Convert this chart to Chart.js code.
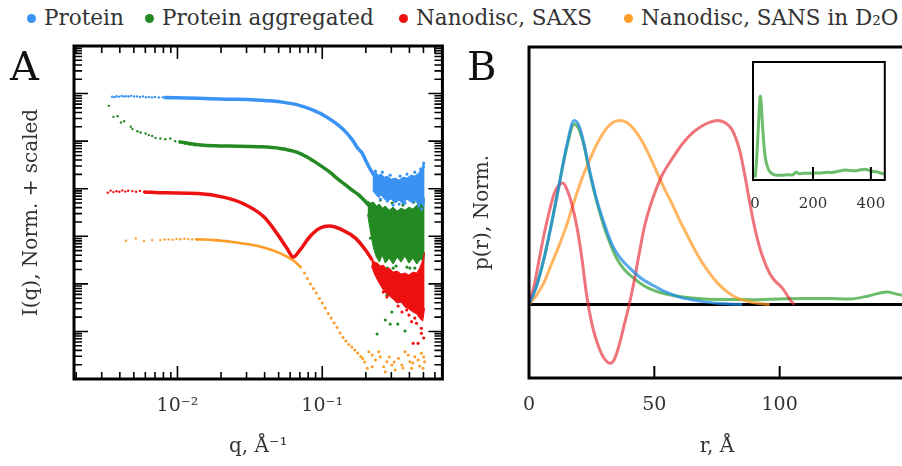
<!DOCTYPE html>
<html>
<head>
<meta charset="utf-8">
<title>Scattering curves and pair distance distributions</title>
<script src="https://cdn.jsdelivr.net/npm/chart.js@4.4.1/dist/chart.umd.min.js"></script>
<style>
  html, body { margin: 0; padding: 0; background: #fff; }
  body { width: 902px; height: 466px; position: relative; overflow: hidden; font-family: "DejaVu Serif", serif; }
  .legend-item { position: absolute; top: 4px; height: 28px; line-height: 28px; font-size: 21.5px; color: #333; white-space: nowrap; }
  .legend-item i { display: inline-block; width: 9px; height: 9px; border-radius: 50%; margin-right: 8px; vertical-align: 2px; }
  .letter { position: absolute; font-size: 40px; line-height: 40px; color: #111; }
  canvas { position: absolute; }
  #clipB { position: absolute; left: 451px; top: 0; width: 451px; height: 466px; overflow: hidden; }
</style>
</head>
<body>
<div id="legend"></div>
<canvas id="chartA" width="451" height="466" style="left:0;top:0"></canvas>
<div id="clipB"><canvas id="chartB" width="454" height="466" style="left:0;top:0"></canvas></div>
<canvas id="chartInset" width="167" height="170" style="left:735px;top:50px"></canvas>
<div class="letter" style="left:10px;top:46px">A</div>
<div class="letter" style="left:467px;top:46px">B</div>
<script>
// ---- series ----
const seriesLabels = ['Protein', 'Protein aggregated', 'Nanodisc, SAXS', 'Nanodisc, SANS in D\u2082O'];
const seriesColors = ['#3a93f2', '#238a23', '#ee1111', '#ff9c26'];
const lineColors = ['rgba(31,140,230,0.75)', 'rgba(44,160,44,0.7)', 'rgba(230,40,50,0.65)', 'rgba(255,150,30,0.7)'];
const legendLeft = [27, 145, 399, 624];

// ---- panel A: I(q), q in 1/Å, intensity normalised and offset ----
// Protein
const proteinSparseQ = [0.00354, 0.00367, 0.00379, 0.00394, 0.0041, 0.00426, 0.00443, 0.00461, 0.00479, 0.00502, 0.00526, 0.00551, 0.00578, 0.00606, 0.00635, 0.00666, 0.00698, 0.00743, 0.00791, 0.00842];
const proteinSparseI = [8.61e5, 8.40e5, 8.82e5, 8.61e5, 8.91e5, 8.69e5, 8.82e5, 8.73e5, 8.95e5, 8.65e5, 8.73e5, 8.49e5, 8.69e5, 8.40e5, 8.49e5, 8.32e5, 8.45e5, 8.24e5, 8.32e5, 8.16e5];
const proteinCurveQ = [0.00804, 0.0139, 0.02224, 0.0304, 0.04159, 0.05128, 0.06653, 0.08646, 0.1065, 0.1245, 0.1456, 0.1618, 0.1758, 0.1892, 0.1991, 0.2099, 0.227];
const proteinCurveI = [8.24e5, 7.93e5, 7.62e5, 7.52e5, 7.10e5, 6.70e5, 5.85e5, 4.48e5, 3.27e5, 2.35e5, 1.55e5, 1.05e5, 7.13e4, 5.52e4, 3.99e4, 2.89e4, 1.93e4];
const proteinBandQ = [0.2224, 0.2329, 0.2445, 0.2559, 0.2683, 0.2812, 0.2994, 0.3187, 0.3394, 0.361, 0.3846, 0.4097, 0.4357, 0.4642, 0.4864, 0.502, 0.5093];
const proteinBandHi = [18400, 22300, 19300, 20300, 17500, 18400, 15900, 16700, 15200, 17500, 16700, 19300, 18400, 21300, 27100, 34500, 27100];
const proteinBandLo = [9350, 7710, 6570, 7340, 6050, 5490, 6050, 4980, 5770, 4750, 6050, 5230, 5770, 4520, 4980, 4100, 6050];
const proteinEdgeQ = [0.2329, 0.26, 0.2946, 0.3446, 0.3846, 0.4357, 0.4788, 0.502, 0.2519, 0.2812, 0.309, 0.3394, 0.3727, 0.4225, 0.4642, 0.4864];
const proteinEdgeI = [2.34e4, 2.23e4, 1.93e4, 1.84e4, 2.03e4, 2.23e4, 2.58e4, 3.45e4, 6050, 5490, 4520, 4750, 4980, 5230, 4310, 3730];

// Protein aggregated
const aggSparseQ = [0.00336, 0.00361, 0.00386, 0.00407, 0.00429, 0.00476, 0.00489, 0.00529, 0.00557, 0.00603, 0.00635, 0.00669, 0.00705, 0.00762, 0.00824, 0.00892, 0.00965, 0.01043, 0.01128, 0.0122, 0.01319];
const aggSparseI = [5.52e5, 3.24e5, 3.35e5, 2.47e5, 2.63e5, 2.0e5, 1.79e5, 1.62e5, 1.52e5, 1.45e5, 1.34e5, 1.29e5, 1.17e5, 1.14e5, 1.10e5, 1.14e5, 1.0e5, 9.40e4, 8.95e4, 8.53e4, 8.24e4];
const aggCurveQ = [0.01016, 0.0139, 0.01804, 0.026, 0.03556, 0.05128, 0.06653, 0.07786, 0.0939, 0.1122, 0.1285, 0.1456, 0.1625, 0.1794, 0.1991, 0.2154];
const aggCurveI = [9.76e4, 8.44e4, 7.96e4, 7.85e4, 7.66e4, 7.03e4, 5.87e4, 4.68e4, 3.29e4, 2.26e4, 1.59e4, 1.19e4, 9.12e3, 7.34e3, 5.31e3, 4.10e3];
const aggBandQ = [0.2056, 0.2154, 0.2258, 0.2366, 0.248, 0.26, 0.2725, 0.2901, 0.309, 0.3289, 0.3501, 0.3727, 0.3967, 0.4225, 0.4499, 0.4788, 0.502, 0.5093];
const aggBandHi = [5490, 4980, 5230, 4310, 4750, 3910, 4310, 3550, 4100, 3380, 3910, 3550, 4100, 3730, 4520, 5490, 6660, 5770];
const aggBandLo = [2930, 1225, 565, 366, 287, 403, 273, 348, 261, 366, 287, 384, 273, 348, 261, 332, 287, 466];
const aggEdgeQ = [0.2798, 0.3025, 0.2725, 0.2946, 0.3323, 0.2393, 0.3727, 0.2559, 0.309, 0.403, 0.4714, 0.3446, 0.4357, 0.2642,
  0.2329, 0.2812, 0.3237, 0.3846, 0.4357, 0.4943, 0.2154, 0.2519, 0.3041, 0.361, 0.4292];
const aggEdgeI = [58.2, 25.6, 17.4, 14.3, 14.3, 8.82, 10.2, 195, 215, 215, 177, 132, 115, 120,
  237, 215, 237, 225, 215, 225, 916, 5770, 4980, 4520, 5230];

// Nanodisc, SAXS
const saxsSparseQ = [0.0033, 0.00345, 0.00361, 0.00379, 0.00397, 0.00416, 0.00436, 0.00457, 0.00489, 0.00518, 0.00551, 0.00587];
const saxsSparseI = [8.20e3, 9.12e3, 8.49e3, 8.82e3, 8.61e3, 9.21e3, 8.69e3, 9.08e3, 8.91e3, 8.65e3, 8.99e3, 8.57e3];
const saxsCurveQ = [0.00587, 0.00824, 0.0139, 0.0211, 0.0289, 0.03951, 0.04863, 0.05689, 0.06319, 0.07014, 0.082, 0.09594, 0.1122, 0.1383, 0.1703, 0.1991, 0.2213];
const saxsCurveI = [8.57e3, 8.2e3, 7.96e3, 6.57e3, 4.75e3, 2.57e3, 1.15e3, 565, 366, 513, 976, 1470, 1640, 1350, 903, 513, 316];
const saxsBandQ = [0.2188, 0.2294, 0.2404, 0.2519, 0.2642, 0.2769, 0.2901, 0.309, 0.3289, 0.3501, 0.3727, 0.3967, 0.4225, 0.4499, 0.4714, 0.4943, 0.5093];
const saxsBandHi = [348, 287, 273, 237, 248, 205, 215, 177, 186, 161, 169, 153, 177, 169, 215, 316, 466];
const saxsBandLo = [237, 161, 120, 94.4, 74.1, 63.1, 55.4, 47.9, 39.5, 41.5, 32.6, 29.6, 25.6, 23.2, 18.8, 16.5, 31.0];
const saxsEdgeQ = [0.2798, 0.3828, 0.414, 0.4477, 0.4842, 0.4842, 0.4246, 0.4592, 0.502, 0.2642, 0.334, 0.4357, 0.3557, 0.397];
const saxsEdgeI = [52.8, 28.2, 16.0, 14.8, 11.6, 9.12, 5.62, 5.62, 7.27, 67.3, 34.2, 19.1, 25.6, 22.1];

// Nanodisc, SANS in D2O
const sansSparseQ = [0.00441, 0.00515, 0.00587, 0.00669, 0.00762, 0.00816, 0.00869, 0.00925, 0.00984, 0.01048, 0.01116, 0.01188, 0.01265, 0.01347];
const sansSparseI = [804, 903, 793, 832, 832, 853, 861, 849, 882, 865, 886, 873, 857, 865];
const sansCurveQ = [0.01347, 0.01804, 0.02339, 0.03041, 0.03951, 0.05128, 0.06319, 0.07197];
const sansCurveI = [861, 832, 766, 686, 579, 437, 309, 215];
const sansTailQ = [0.0754, 0.07906, 0.08289, 0.0869, 0.09101, 0.0955, 0.1, 0.1048, 0.1099, 0.1152, 0.1207, 0.1265, 0.1326, 0.139, 0.1456, 0.1526, 0.16, 0.1677, 0.1758, 0.1842, 0.1901,
  0.2099, 0.2213, 0.2453, 0.2519, 0.2329, 0.2654, 0.2798, 0.3025, 0.3187, 0.3357, 0.354, 0.3727, 0.3927, 0.403, 0.4357, 0.4592, 0.4842, 0.5093, 0.2213, 0.2046, 0.2725, 0.414, 0.4966, 0.1962, 0.2901, 0.3139, 0.361, 0.4225, 0.4714, 0.502];
const sansTailI = [169, 129, 99.0, 79.7, 64.1, 49.1, 39.5, 31.0, 23.8, 19.1, 15.0, 12.1, 9.25, 7.45, 6.29, 5.31, 4.70, 4.06, 3.52, 2.97, 2.70,
  3.75, 3.19, 3.75, 2.94, 2.51, 1.81, 2.31, 1.97, 1.55, 2.72, 1.97, 3.75, 3.19, 2.31, 2.94, 2.51, 3.47, 2.31, 1.81, 1.68, 1.42, 1.68, 1.68, 2.28, 2.90, 2.28, 1.70, 2.17, 1.88, 2.90];

// axis ranges and labelled ticks, panel A
const qMin = 0.00193, qMax = 0.676;
const iMin = 1, iMax = 1e7;
const qLabelValues = [0.01, 0.1];
const qLabelTexts = ['10\u207B\u00B2', '10\u207B\u00B9'];

// ---- panel B: p(r), r in Å, normalised ----
const rProtein = [0, 3, 6, 9, 12, 15, 18, 20, 22, 24, 27, 30, 33, 36, 40, 45, 50, 55, 60, 65, 70, 75, 80, 85];
const pProtein = [0, 0.1, 0.25, 0.44, 0.65, 0.86, 1.0, 0.97, 0.87, 0.74, 0.57, 0.44, 0.33, 0.26, 0.2, 0.14, 0.1, 0.065, 0.04, 0.025, 0.014, 0.007, 0.002, 0];
const rAggregated = [0, 3, 6, 9, 12, 15, 18, 20, 22, 24, 27, 30, 33, 35, 38, 42, 46, 50, 55, 60, 65, 70, 80, 90, 100, 110, 120, 128, 135, 140, 143, 148, 155, 165, 180, 195, 210, 225, 240, 252, 265, 280, 295, 310, 325, 345, 360, 379, 395, 414, 425, 437, 445];
const pAggregated = [0, 0.1, 0.25, 0.44, 0.65, 0.85, 0.98, 0.95, 0.86, 0.73, 0.56, 0.42, 0.31, 0.25, 0.19, 0.14, 0.1, 0.075, 0.055, 0.043, 0.035, 0.03, 0.027, 0.026, 0.03, 0.033, 0.032, 0.03, 0.045, 0.062, 0.067, 0.052, 0.045, 0.05, 0.05, 0.05, 0.055, 0.055, 0.06, 0.063, 0.06, 0.07, 0.08, 0.09, 0.085, 0.08, 0.09, 0.1, 0.085, 0.07, 0.065, 0.05, 0.045];
const rSaxs = [0, 2, 4, 6, 8, 10, 12, 13.5, 15, 17, 19, 21, 23, 25, 27, 29, 31, 32.5, 34, 36, 38, 40, 42, 44, 46, 48, 50, 53, 57, 61, 65, 69, 72, 75, 78, 81, 84, 86, 88, 90, 92, 94, 96, 98, 101, 103, 105, 106];
const pSaxs = [0, 0.1, 0.24, 0.38, 0.5, 0.6, 0.65, 0.66, 0.63, 0.55, 0.43, 0.26, 0.05, -0.1, -0.2, -0.27, -0.31, -0.32, -0.3, -0.22, -0.11, 0, 0.13, 0.28, 0.42, 0.52, 0.6, 0.7, 0.79, 0.87, 0.93, 0.97, 0.99, 1.0, 0.99, 0.95, 0.84, 0.71, 0.56, 0.42, 0.31, 0.23, 0.17, 0.13, 0.09, 0.05, 0.01, 0];
const rSans = [0, 3, 6, 9, 12, 15, 18, 21, 24, 27, 30, 33, 36, 39, 42, 45, 48, 51, 54, 57, 60, 63, 66, 69, 72, 75, 78, 81, 84, 88, 92, 96];
const pSans = [0, 0.05, 0.12, 0.22, 0.32, 0.43, 0.56, 0.68, 0.78, 0.87, 0.94, 0.985, 1.0, 0.99, 0.95, 0.89, 0.81, 0.72, 0.63, 0.55, 0.46, 0.38, 0.3, 0.23, 0.17, 0.12, 0.08, 0.05, 0.03, 0.015, 0.005, 0];
const rMin = 0, rMax = 150, pMin = -0.4, pMax = 1.4;
const rTickValues = [0, 50, 100];
const insetRMin = -7, insetRMax = 448, insetPMin = -0.03, insetPMax = 1.39;
const insetTickValues = [0, 200, 400];

// ---- legend ----
const legendEl = document.getElementById('legend');
seriesLabels.forEach((label, k) => {
  const d = document.createElement('div');
  d.className = 'legend-item';
  d.style.left = legendLeft[k] + 'px';
  const dot = document.createElement('i');
  dot.style.background = seriesColors[k];
  d.appendChild(dot);
  d.appendChild(document.createTextNode(label));
  legendEl.appendChild(d);
});

// ---- helpers ----
const FONT = '"DejaVu Serif", serif';
const TEXT = '#333';
function xy(xs, ys) { return xs.map((x, i) => ({ x, y: ys[i] })); }
function dots(xs, ys, color, r, order) {
  return { type: 'scatter', data: xy(xs, ys), showLine: false, pointRadius: r, pointBackgroundColor: color, pointBorderColor: color, pointBorderWidth: 0, order };
}
function curve(xs, ys, color, w, order) {
  return { type: 'line', data: xy(xs, ys), borderColor: color, borderWidth: w, pointRadius: 0, cubicInterpolationMode: 'monotone', fill: false, order };
}
function band(xs, hi, lo, color, order) {
  return [
    { type: 'line', data: xy(xs, hi), borderColor: color, backgroundColor: color, borderWidth: 1, pointRadius: 0, fill: '+1', order },
    { type: 'line', data: xy(xs, lo), borderColor: color, borderWidth: 1, pointRadius: 0, fill: false, order }
  ];
}
function logTicks(min, max) {
  const out = [];
  for (let e = Math.floor(Math.log10(min)); e <= Math.ceil(Math.log10(max)); e++) {
    for (let m = 1; m <= 9; m++) {
      const v = m * Math.pow(10, e);
      if (v >= min && v <= max * 1.0001) out.push({ value: v, major: m === 1 });
    }
  }
  return out;
}
function near(a, b) { return Math.abs(a - b) <= 1e-9 * Math.max(1, Math.abs(b)); }

// frame around the plot area plus inward tick marks
const frameTicks = {
  id: 'frameTicks',
  afterDatasetsDraw(chart, args, opts) {
    const { ctx, chartArea: a } = chart;
    ctx.save();
    ctx.strokeStyle = '#000';
    (opts.axes || []).forEach(ax => {
      const s = chart.scales[ax.id];
      ctx.lineWidth = ax.width;
      s.ticks.forEach(t => {
        if ((ax.skip || []).some(v => near(t.value, v))) return;
        const len = t.major ? ax.major : ax.minor;
        const p = s.getPixelForValue(t.value);
        ctx.beginPath();
        if (s.isHorizontal()) {
          if (ax.sides.includes('bottom')) { ctx.moveTo(p, a.bottom); ctx.lineTo(p, a.bottom - len); }
          if (ax.sides.includes('top')) { ctx.moveTo(p, a.top); ctx.lineTo(p, a.top + len); }
        } else {
          if (ax.sides.includes('left')) { ctx.moveTo(a.left, p); ctx.lineTo(a.left + len, p); }
          if (ax.sides.includes('right')) { ctx.moveTo(a.right, p); ctx.lineTo(a.right - len, p); }
        }
        ctx.stroke();
      });
    });
    ctx.lineWidth = opts.frame;
    ctx.strokeRect(a.left, a.top, a.right - a.left, a.bottom - a.top);
    ctx.restore();
  }
};

const common = { responsive: false, animation: false, devicePixelRatio: 1, events: [] };

// ---- panel A ----
const [cBlue, cGreen, cRed, cOrange] = seriesColors;
new Chart(document.getElementById('chartA'), {
  type: 'scatter',
  data: {
    datasets: [
      dots(proteinSparseQ, proteinSparseI, cBlue, 1.2, 1),
      curve(proteinCurveQ, proteinCurveI, cBlue, 3.5, 1),
      ...band(proteinBandQ, proteinBandHi, proteinBandLo, cBlue, 1),
      dots(proteinEdgeQ, proteinEdgeI, cBlue, 1.6, 1),
      dots(saxsSparseQ, saxsSparseI, cRed, 1.2, 2),
      curve(saxsCurveQ, saxsCurveI, cRed, 3.5, 2),
      ...band(saxsBandQ, saxsBandHi, saxsBandLo, cRed, 2),
      dots(saxsEdgeQ, saxsEdgeI, cRed, 1.6, 2),
      dots(aggSparseQ, aggSparseI, cGreen, 1.2, 3),
      curve(aggCurveQ, aggCurveI, cGreen, 3.5, 3),
      ...band(aggBandQ, aggBandHi, aggBandLo, cGreen, 3),
      dots(aggEdgeQ, aggEdgeI, cGreen, 1.6, 3),
      dots(sansSparseQ, sansSparseI, cOrange, 1.2, 4),
      curve(sansCurveQ, sansCurveI, cOrange, 2.6, 4),
      dots(sansTailQ, sansTailI, cOrange, 1.5, 4)
    ]
  },
  options: {
    ...common,
    layout: { padding: { top: 46, right: 2.5, left: 0, bottom: 0 } },
    plugins: {
      legend: { display: false }, tooltip: { enabled: false },
      frameTicks: { frame: 3, axes: [
        { id: 'x', sides: ['bottom', 'top'], major: 13, minor: 7, width: 1.6 },
        { id: 'y', sides: ['left', 'right'], major: 14, minor: 8, width: 1.6 }
      ] }
    },
    scales: {
      x: {
        type: 'logarithmic', min: qMin, max: qMax, bounds: 'data',
        afterBuildTicks: s => { s.ticks = logTicks(qMin, qMax); },
        afterFit: s => { s.height = 87; },
        grid: { display: false, drawTicks: false }, border: { display: false },
        ticks: {
          autoSkip: false, maxRotation: 0, minRotation: 0, padding: 16, color: TEXT,
          font: { family: FONT, size: 19 },
          callback: v => { const k = qLabelValues.findIndex(q => near(v, q)); return k < 0 ? '' : qLabelTexts[k]; }
        },
        title: { display: true, text: 'q, \u00C5\u207B\u00B9', color: TEXT, font: { family: FONT, size: 20 }, padding: { top: 0, bottom: 7 } }
      },
      y: {
        type: 'logarithmic', min: iMin, max: iMax, bounds: 'data',
        afterBuildTicks: s => { s.ticks = logTicks(iMin, iMax); },
        afterFit: s => { s.width = 74; },
        grid: { display: false, drawTicks: false }, border: { display: false },
        ticks: { display: false },
        title: { display: true, text: 'I(q), Norm. + scaled', color: TEXT, font: { family: FONT, size: 20 }, padding: { top: 20, bottom: 0 } }
      }
    }
  },
  plugins: [frameTicks]
});

// ---- panel B ----
const [lBlue, lGreen, lRed, lOrange] = lineColors;
function prLine(xs, ys, color, order) {
  return { type: 'line', data: xy(xs, ys), borderColor: color, borderWidth: 3, pointRadius: 0, cubicInterpolationMode: 'monotone', fill: false, order };
}
new Chart(document.getElementById('chartB'), {
  type: 'line',
  data: {
    datasets: [
      prLine(rProtein, pProtein, lBlue, 1),
      prLine(rSaxs, pSaxs, lRed, 2),
      prLine(rSans, pSans, lOrange, 3),
      prLine(rAggregated, pAggregated, lGreen, 4)
    ]
  },
  options: {
    ...common,
    layout: { padding: { top: 47, right: 0, left: 0, bottom: 0 } },
    plugins: {
      legend: { display: false }, tooltip: { enabled: false },
      frameTicks: { frame: 3, axes: [ { id: 'x', sides: ['bottom'], major: 12, minor: 12, width: 2, skip: [0] } ] }
    },
    scales: {
      x: {
        type: 'linear', min: rMin, max: rMax, bounds: 'data',
        afterBuildTicks: s => { s.ticks = rTickValues.map(v => ({ value: v, major: true })); },
        afterFit: s => { s.height = 88; },
        grid: { display: false, drawTicks: false }, border: { display: false },
        ticks: { autoSkip: false, maxRotation: 0, padding: 16, color: TEXT, font: { family: FONT, size: 19 }, callback: v => String(v) },
        title: { display: true, text: 'r, \u00C5', color: TEXT, font: { family: FONT, size: 20 }, padding: { top: 0, bottom: 7 } }
      },
      y: {
        type: 'linear', min: pMin, max: pMax, bounds: 'data', z: 1,
        afterBuildTicks: s => { s.ticks = [{ value: 0 }]; },
        afterFit: s => { s.width = 78; },
        grid: { display: true, drawTicks: false, color: '#000', lineWidth: 3 }, border: { display: false },
        ticks: { display: false },
        title: { display: true, text: 'p(r), Norm.', color: TEXT, font: { family: FONT, size: 20 }, padding: { top: 20, bottom: 0 } }
      }
    }
  },
  plugins: [frameTicks]
});

// ---- inset: aggregated p(r) over the full range ----
new Chart(document.getElementById('chartInset'), {
  type: 'line',
  data: { datasets: [ prLine(rAggregated, pAggregated, lGreen, 1) ] },
  options: {
    ...common,
    layout: { padding: { top: 12, right: 17, left: 0, bottom: 0 } },
    plugins: {
      legend: { display: false }, tooltip: { enabled: false },
      frameTicks: { frame: 2, axes: [ { id: 'x', sides: ['bottom'], major: 13, minor: 13, width: 2, skip: [0] } ] }
    },
    scales: {
      x: {
        type: 'linear', min: insetRMin, max: insetRMax, bounds: 'data',
        afterBuildTicks: s => { s.ticks = insetTickValues.map(v => ({ value: v, major: true })); },
        afterFit: s => { s.height = 40; },
        grid: { display: false, drawTicks: false }, border: { display: false },
        ticks: { autoSkip: false, maxRotation: 0, padding: 15, color: TEXT, font: { family: FONT, size: 15 }, callback: v => String(v) }
      },
      y: {
        type: 'linear', min: insetPMin, max: insetPMax, bounds: 'data',
        afterFit: s => { s.width = 18; },
        grid: { display: false, drawTicks: false }, border: { display: false },
        ticks: { display: false }
      }
    }
  },
  plugins: [frameTicks]
});
</script>
</body>
</html>
